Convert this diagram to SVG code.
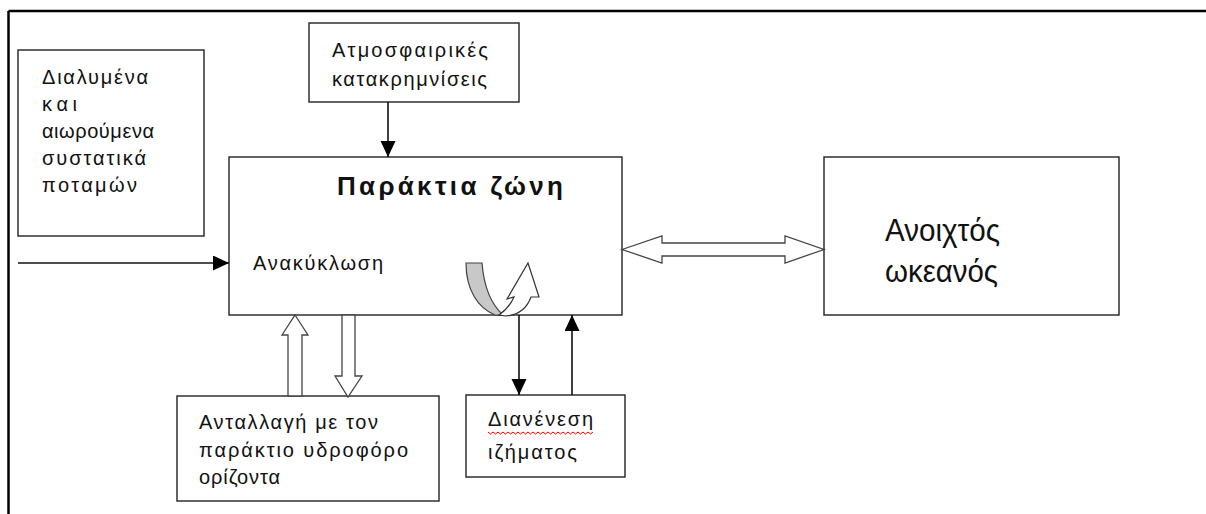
<svg xmlns="http://www.w3.org/2000/svg" width="1206" height="514" viewBox="0 0 1206 514">
<style>
.box{fill:#fff;stroke:#222;stroke-width:1.4}
.t{font-family:"Liberation Sans",Arial,sans-serif;font-size:20px;fill:#111}
.b{font-family:"Liberation Sans",Arial,sans-serif;font-size:26px;font-weight:bold;fill:#111}
.big{font-family:"Liberation Sans",Arial,sans-serif;font-size:32px;fill:#111}
.ln{stroke:#111;stroke-width:1.6;fill:none}
.hollow{fill:#fff;stroke:#444;stroke-width:1.3}
</style>
<defs>
<marker id="ah" markerUnits="userSpaceOnUse" markerWidth="18" markerHeight="16" refX="16" refY="7.5" orient="auto">
<path d="M0,0 L16,7.5 L0,15 Z" fill="#000"/>
</marker>
</defs>
<rect width="1206" height="514" fill="#fff"/>
<g id="frame">
<line x1="8.5" y1="11" x2="1206" y2="11" stroke="#000" stroke-width="2.5"/>
<line x1="8.5" y1="11" x2="8.5" y2="514" stroke="#000" stroke-width="2.5"/>
</g>
<g id="rivers">
<rect class="box" x="18" y="50" width="186" height="186"/>
<text class="t" x="42" y="84" textLength="106" lengthAdjust="spacing">Διαλυμένα</text>
<text class="t" x="42" y="111" textLength="35" lengthAdjust="spacing">και</text>
<text class="t" x="42" y="138" textLength="112" lengthAdjust="spacing">αιωρούμενα</text>
<text class="t" x="42" y="165" textLength="104" lengthAdjust="spacing">συστατικά</text>
<text class="t" x="42" y="192" textLength="95" lengthAdjust="spacing">ποταμών</text>
</g>
<g id="atmos">
<rect class="box" x="309" y="23" width="210" height="79"/>
<text class="t" x="332" y="57" textLength="156" lengthAdjust="spacing">Ατμοσφαιρικές</text>
<text class="t" x="332" y="86" textLength="155" lengthAdjust="spacing">κατακρημνίσεις</text>
</g>
<g id="coastal">
<rect class="box" x="229" y="157" width="393" height="158"/>
<text class="b" x="337" y="195" textLength="226" lengthAdjust="spacing">Παράκτια ζώνη</text>
<text class="t" x="253" y="270" textLength="130" lengthAdjust="spacing">Ανακύκλωση</text>
</g>
<g id="ocean">
<rect class="box" x="824" y="157" width="295" height="158"/>
<text class="big" x="885" y="241" textLength="115" lengthAdjust="spacingAndGlyphs">Ανοιχτός</text>
<text class="big" x="885" y="282" textLength="113" lengthAdjust="spacingAndGlyphs">ωκεανός</text>
</g>
<g id="aquifer">
<rect class="box" x="177" y="396" width="262" height="105"/>
<text class="t" x="199" y="429" textLength="179" lengthAdjust="spacing">Ανταλλαγή με τον</text>
<text class="t" x="199" y="457" textLength="209" lengthAdjust="spacing">παράκτιο υδροφόρο</text>
<text class="t" x="199" y="484" textLength="81" lengthAdjust="spacing">ορίζοντα</text>
</g>
<g id="sediment">
<rect class="box" x="466" y="395" width="159" height="82"/>
<text class="t" x="488" y="426" textLength="105" lengthAdjust="spacing">Διανένεση</text>
<path d="M488,432 l2.5,2 l2.5,-2 l2.5,2 l2.5,-2 l2.5,2 l2.5,-2 l2.5,2 l2.5,-2 l2.5,2 l2.5,-2 l2.5,2 l2.5,-2 l2.5,2 l2.5,-2 l2.5,2 l2.5,-2 l2.5,2 l2.5,-2 l2.5,2 l2.5,-2 l2.5,2 l2.5,-2 l2.5,2 l2.5,-2 l2.5,2 l2.5,-2 l2.5,2 l2.5,-2 l2.5,2 l2.5,-2 l2.5,2 l2.5,-2 l2.5,2 l2.5,-2 l2.5,2 l2.5,-2 l2.5,2 l2.5,-2 l2.5,2 l2.5,-2 l2.5,2 l2.5,-2" fill="none" stroke="#e00" stroke-width="1"/>
<text class="t" x="488" y="459" textLength="89" lengthAdjust="spacing">ιζήματος</text>
</g>
<g id="connectors">
<line class="ln" x1="18" y1="263" x2="229" y2="263" marker-end="url(#ah)"/>
<line class="ln" x1="388" y1="102" x2="388" y2="157" marker-end="url(#ah)"/>
<line class="ln" x1="519" y1="315" x2="519" y2="395" marker-end="url(#ah)"/>
<line class="ln" x1="572" y1="395" x2="572" y2="315" marker-end="url(#ah)"/>
<polygon class="hollow" points="622,249.5 662,236 662,243 785,243 785,236 824,249.5 785,263 785,256 662,256 662,263"/>
<polygon class="hollow" points="295,315 308,335 302,335 302,396 288,396 288,335 282,335"/>
<polygon class="hollow" points="342,315 355,315 355,376 362,376 348,397 335,376 342,376"/>
<path d="M466,263 L482,263 C484,288 492,305 503,315 L495,315 C478,308 466,290 466,263 Z" fill="#c8c8c8" stroke="#444" stroke-width="1.2"/>
<path d="M499,315 C506,310 511,304 514,297 L507,299 L528,263 L539,297 L531,297 C527,308 518,315 506,316 Z" fill="#fff" stroke="#333" stroke-width="1.2"/>
</g>
</svg>
